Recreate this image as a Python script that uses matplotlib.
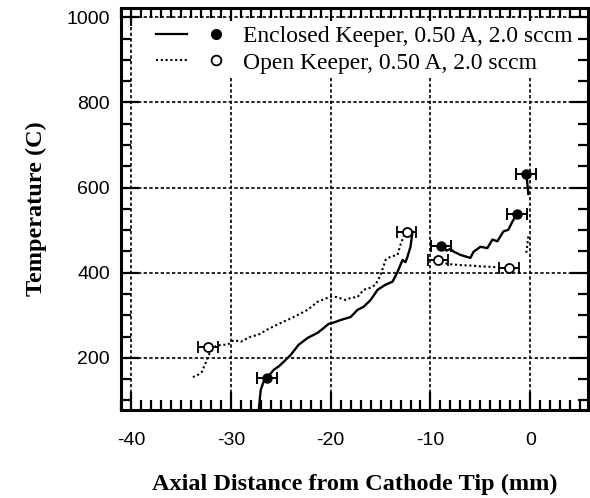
import numpy as np
import matplotlib
matplotlib.use("Agg")
import matplotlib.pyplot as plt
from matplotlib.lines import Line2D
from matplotlib.legend_handler import HandlerTuple
from matplotlib.ticker import MultipleLocator

# enclosed keeper temperature trace (solid), nan = gap in the trace
enc_x = [-27.2, -27.0, -26.7, -26.4, -25.7, -25.2, -24.7, -24.0, -23.2, -22.3,
         -21.3, -20.7, -20.2, -19.7, -19.0, -18.0, -17.3, -16.7, -16.0, -15.3,
         -14.5, -13.8, -13.3, -12.8, -12.5, -12.3, -12.0, -11.8,
         np.nan,
         -9.0, -8.8, -8.4, -8.0, -7.7, -7.0, -6.3, -6.0, -5.7, -5.0,
         -4.3, -3.8, -3.3, -2.7, -2.2, -1.8, -1.3,
         np.nan,
         -0.2, -0.3, -0.4]
enc_y = [78, 125, 145, 152, 172, 180, 191, 207, 231, 247,
         259, 270, 280, 283, 289, 296, 313, 320, 336, 360,
         372, 379, 402, 430, 425, 438, 461, 496,
         np.nan,
         468, 464, 452, 456, 450, 442, 437, 435, 449, 461,
         458, 478, 474, 497, 501, 520, 539,
         np.nan,
         585, 610, 631]

# open keeper temperature trace (dotted)
open_x = [-33.8, -33.3, -32.9, -32.4, -32.1, -31.5, -30.9, -30.3, -29.7, -29.0,
          -28.1, -27.2, -26.4, -25.0, -23.7, -22.3, -21.3, -20.0, -19.4, -18.5,
          -18.0, -17.3, -16.7, -16.0, -15.5, -15.0, -14.5, -14.0, -13.3, -13.0,
          -12.7, -12.5,
          np.nan,
          -8.5, -8.0, -7.0, -6.0, -5.0, -4.0, -2.8,
          np.nan,
          -0.4, -0.3, -0.2]
open_y = [155, 160, 167, 195, 212, 228, 231, 231, 242, 238,
          249, 255, 266, 282, 296, 313, 332, 344, 343, 336,
          341, 343, 360, 365, 372, 395, 430, 438, 442, 466,
          485, 494,
          np.nan,
          422, 420, 418, 417, 415, 414, 412,
          np.nan,
          447, 465, 487]

# thermocouple points with position uncertainty
enc_pts_x = [-26.4, -8.9, -1.3, -0.4]
enc_pts_y = [152, 464, 539, 631]
open_pts_x = [-32.3, -12.4, -9.2, -2.1]
open_pts_y = [226, 496, 430, 412]
pos_err = 1.0

xticks = [-40, -30, -20, -10, 0]
yticks = [200, 400, 600, 800, 1000]

plt.rcParams['font.family'] = 'Liberation Serif'
plt.rcParams['axes.unicode_minus'] = False

fig = plt.figure(figsize=(5.9, 4.98), dpi=100)
ax = fig.add_axes([0.205, 0.177, 0.792, 0.807])

ax.plot(enc_x, enc_y, color='k', lw=1.7)
ax.plot(open_x, open_y, color='k', lw=1.5, ls=(0, (1, 1.3)))

ax.errorbar(enc_pts_x, enc_pts_y, xerr=pos_err, fmt='o', color='k', ms=6.5,
            capsize=4, elinewidth=1.4, capthick=1.4)
ax.errorbar(open_pts_x, open_pts_y, xerr=pos_err, fmt='o', color='k', ms=6.5,
            mfc='white', mew=1.3, capsize=4, elinewidth=1.4, capthick=1.4)

ax.set_xlim(-41, 5.8)
ax.set_ylim(78, 1022)
ax.set_xticks(xticks)
ax.set_yticks(yticks)
ax.xaxis.set_minor_locator(MultipleLocator(1))
ax.yaxis.set_minor_locator(MultipleLocator(50))
ax.grid(True, which='major', color='k', lw=1.2, ls=(0, (2, 1.4)))

ax.tick_params(which='both', direction='in', top=True, right=True, width=1.6)
ax.tick_params(which='major', length=13)
ax.tick_params(which='minor', length=7)
ax.tick_params(axis='x', pad=16)
ax.tick_params(axis='y', pad=8)
for lab in ax.get_xticklabels() + ax.get_yticklabels():
    lab.set_family('Liberation Sans')
    lab.set_fontsize(14)
for sp in ax.spines.values():
    sp.set_linewidth(2.2)

ax.set_xlabel('Axial Distance from Cathode Tip (mm)', fontsize=17.5,
              fontweight='bold', labelpad=18)
ax.set_ylabel('Temperature (C)', fontsize=17.5, fontweight='bold', labelpad=14)

h_enc = (Line2D([], [], color='k', lw=1.6),
         Line2D([], [], color='k', marker='o', ls='', ms=7))
h_open = (Line2D([], [], color='k', lw=1.5, ls=(0, (1, 1.3))),
          Line2D([], [], color='k', marker='o', ls='', ms=7, mfc='white', mew=1.3))
leg = ax.legend([h_enc, h_open],
                ['Enclosed Keeper, 0.50 A, 2.0 sccm', 'Open Keeper, 0.50 A, 2.0 sccm'],
                handler_map={tuple: HandlerTuple(ndivide=None, pad=0.6)},
                loc='upper left', bbox_to_anchor=(0.055, 0.98), frameon=True,
                fontsize=17, handlelength=3.2, handletextpad=0.5,
                labelspacing=0.22, borderaxespad=0.2, borderpad=0.2)
leg.get_frame().set_facecolor('white')
leg.get_frame().set_edgecolor('none')
leg.get_frame().set_alpha(1)

fig.savefig('out.png', dpi=100)
